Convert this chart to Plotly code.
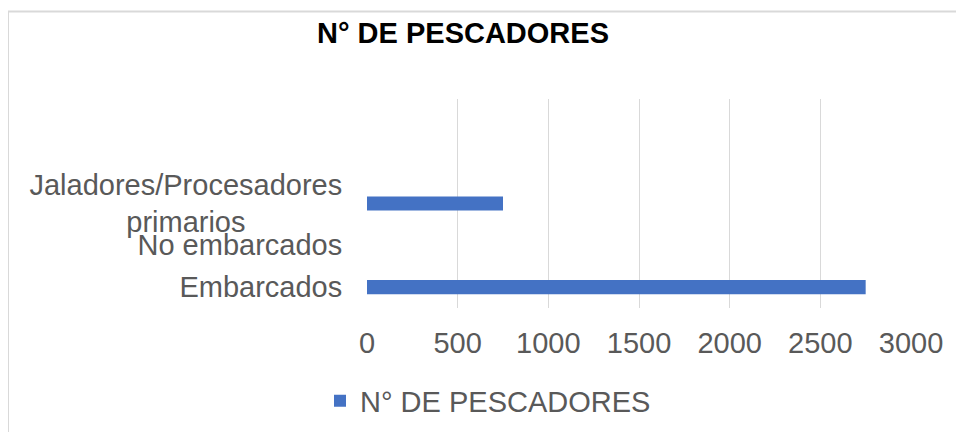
import plotly.graph_objects as go

categories = ["Embarcados", "No embarcados",
              "Jaladores/Procesadores<br>primarios" + "\u00a0" * 12]
values = [2750, 0, 750]
series_name = "N° DE PESCADORES"
x_ticks = [0, 500, 1000, 1500, 2000, 2500, 3000]
title_text = "N° DE PESCADORES"

OFF = 8  # browser body margin
W, H = 964 - OFF, 432 - OFF
L = 367 - OFF
R = W - (911 - OFF)
T = 99 - OFF
B = H - (308 - OFF)
pw, ph = W - L - R, H - T - B

fig = go.Figure()
fig.add_trace(go.Bar(
    x=values, y=categories, orientation="h", name=series_name,
    marker=dict(color="#4472c4", line=dict(width=0)),
    width=0.34, showlegend=True,
))

def px_x(p):
    return (p - OFF - L) / pw

def px_y(p):
    return (H - B - (p - OFF)) / ph

fig.update_layout(
    width=W, height=H,
    margin=dict(l=L, r=R, t=T, b=B, autoexpand=False),
    paper_bgcolor="white", plot_bgcolor="white",
    font=dict(family="Liberation Sans, Arial, sans-serif", size=29, color="#595959"),
    title=dict(text="<b>" + title_text + "</b>", xref="container", yref="container",
               x=(463 - OFF) / W, xanchor="center", y=1 - (33 - OFF) / H, yanchor="middle",
               font=dict(size=29, color="#000000",
                         family="Liberation Sans, Arial, sans-serif")),
    xaxis=dict(range=[0, 3000], tickvals=x_ticks, showgrid=True,
               gridcolor="#d9d9d9", gridwidth=1, zeroline=False,
               showline=False, ticks="outside", ticklen=9,
               tickcolor="rgba(0,0,0,0)", fixedrange=True),
    yaxis=dict(type="category", categoryorder="array", categoryarray=categories,
               range=[-0.5, 4.5], showgrid=False, zeroline=False,
               showline=False, ticks="outside", ticklen=18,
               tickcolor="rgba(0,0,0,0)"),
    legend=dict(orientation="h", x=px_x(320), xanchor="left",
                y=px_y(401), yanchor="middle",
                font=dict(size=29, color="#595959"), bgcolor="rgba(0,0,0,0)"),
    shapes=[
        dict(type="line", xref="paper", yref="paper",
             x0=px_x(8), x1=px_x(8), y0=px_y(11.5), y1=px_y(445),
             line=dict(color="#d9d9d9", width=2)),
        dict(type="line", xref="paper", yref="paper",
             x0=px_x(8), x1=px_x(975), y0=px_y(11.5), y1=px_y(11.5),
             line=dict(color="#d9d9d9", width=2)),
    ],
)

fig.write_html("out.html")
